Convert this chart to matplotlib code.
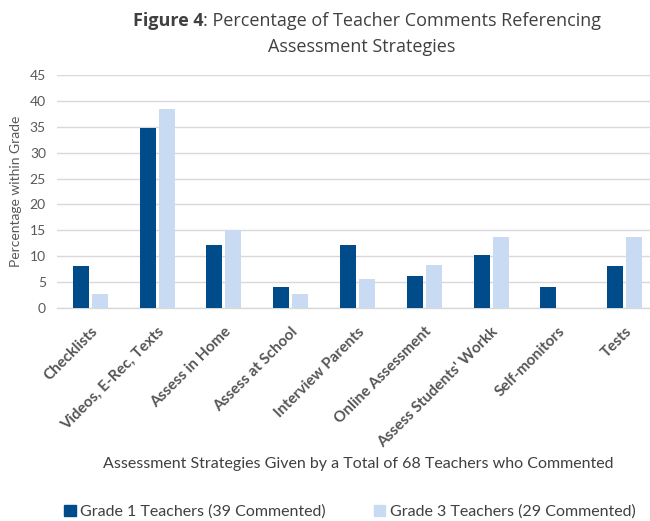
import numpy as np
import matplotlib
matplotlib.use('Agg')
import matplotlib.pyplot as plt
from matplotlib.patches import Patch

# ── Data ────────────────────────────────────────────────────────────────
categories = ['Checklists', 'Videos, E-Rec, Texts', 'Assess in Home',
              'Assess at School', 'Interview Parents', 'Online Assessment',
              "Assess Students' Workk", 'Self-monitors', 'Tests']
grade1 = [8.2, 34.7, 12.2, 4.1, 12.2, 6.1, 10.2, 4.1, 8.2]
grade3 = [2.8, 38.5, 15.0, 2.8, 5.6, 8.3, 13.8, 0.0, 13.8]
yticks = [0, 5, 10, 15, 20, 25, 30, 35, 40, 45]

DARK = '#004C8A'
LIGHT = '#C8DBF2'
TXT = '#404040'
FONT = 'Lato'

plt.rcParams['font.family'] = [FONT, 'DejaVu Sans']

W, H = 650, 521
fig = plt.figure(figsize=(W / 100, H / 100), dpi=100)
# plot area runs off the right edge, as in the original
ax_w = 658 - 57
ax = fig.add_axes([57 / W, 1 - 308 / H, ax_w / W, (308 - 75) / H])

x = np.arange(len(categories))
bw = 0.24
off = 0.142
ax.bar(x - off, grade1, width=bw, color=DARK, zorder=3)
ax.bar(x + off, grade3, width=bw, color=LIGHT, zorder=3)

ax.set_xlim(-0.5, len(categories) - 0.5)
ax.set_ylim(0, 45)
ax.set_yticks(yticks)
ax.yaxis.grid(True, color='#D9D9D9', linewidth=1.0, zorder=0)
ax.set_axisbelow(True)
for s in ['top', 'right', 'left']:
    ax.spines[s].set_visible(False)
ax.spines['bottom'].set_color('#D9D9D9')
ax.spines['bottom'].set_linewidth(1.0)
ax.tick_params(axis='both', length=0)
ax.tick_params(axis='y', labelsize=10, labelcolor='#595959', pad=8)

ax.set_xticks(x)
ax.set_xticklabels(categories, rotation=45, ha='right', rotation_mode='anchor',
                   fontsize=11, color='#555555', fontweight='bold')
ax.tick_params(axis='x', pad=12)

ax.set_ylabel('Percentage within Grade', fontsize=10, color='#595959')
ax.yaxis.set_label_coords((22 - 57) / ax_w, 0.5)

fig.text(358 / W, 1 - 464 / H,
         'Assessment Strategies Given by a Total of 68 Teachers who Commented',
         ha='center', va='center', fontsize=11.5, color=TXT)

# title, first line has a bold lead-in
r = fig.canvas.get_renderer()
t1 = fig.text(0, 1 - 21 / H, 'Figure 4', fontsize=13, fontweight='bold',
              color=TXT, va='center', family='Open Sans')
t2 = fig.text(0, 1 - 21 / H, ': Percentage of Teacher Comments Referencing',
              fontsize=13, color=TXT, va='center', family='Open Sans')
w1 = t1.get_window_extent(r).width
w2 = t2.get_window_extent(r).width
x0 = 367 - (w1 + w2) / 2
t1.set_x(x0 / W)
t2.set_x((x0 + w1) / W)
fig.text(362 / W, 1 - 47 / H, 'Assessment Strategies', fontsize=13,
         color=TXT, ha='center', va='center', family='Open Sans')

handles = [Patch(color=DARK), Patch(color=LIGHT)]
fig.legend(handles, ['Grade 1 Teachers (39 Commented)', 'Grade 3 Teachers (29 Commented)'],
           loc='center', bbox_to_anchor=(350 / W, 1 - 512 / H), ncol=2,
           frameon=False, fontsize=11.5, handlelength=0.7, handleheight=0.7,
           handletextpad=0.3, columnspacing=3.0, labelcolor=TXT)

fig.savefig('out.png', dpi=100)
